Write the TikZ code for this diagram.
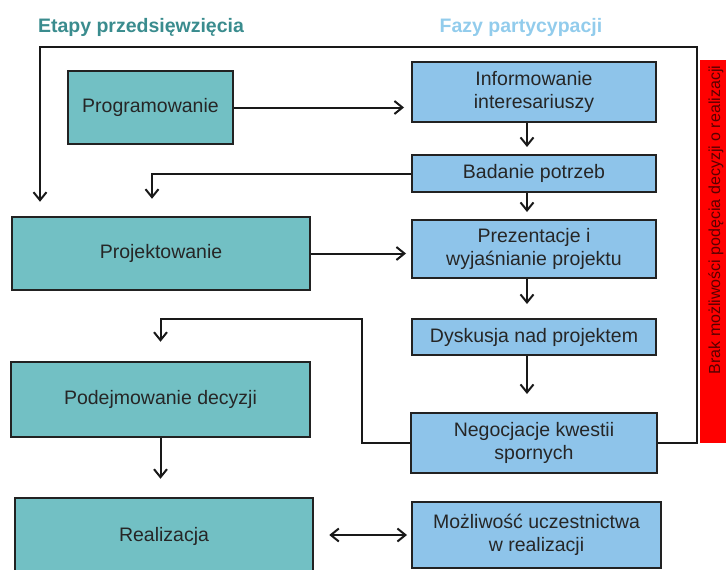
\documentclass[tikz,border=0pt]{standalone}
\usepackage{fontspec}
\setmainfont{Liberation Sans}
\definecolor{stageteal}{RGB}{114, 192, 196}
\definecolor{phaseblue}{RGB}{142, 196, 234}
\definecolor{headteal}{RGB}{58, 140, 142}
\definecolor{headblue}{RGB}{146, 204, 236}
\definecolor{boxline}{RGB}{34, 34, 34}
\definecolor{barred}{RGB}{255, 0, 0}
\usetikzlibrary{arrows.meta, positioning, calc}

\tikzset{
  stagebox/.style={draw=boxline, line width=2.5pt, fill=stageteal, inner sep=0pt,
    font=\fontsize{19.5}{23.5}\selectfont, text=black!85, align=center},
  phasebox/.style={draw=boxline, line width=2pt, fill=phaseblue, inner sep=0pt,
    font=\fontsize{19.5}{23.5}\selectfont, text=black!85, align=center},
  arr/.style={line width=2pt, draw=black!90, -{Straight Barb[length=8pt, width=13pt, line width=2pt]}},
  arrboth/.style={line width=2pt, draw=black!90, {Straight Barb[length=8pt, width=13pt, line width=2pt]}-{Straight Barb[length=8pt, width=13pt, line width=2pt]}}
}

\begin{document}
\begin{tikzpicture}[x=1pt, y=-1pt]
  \useasboundingbox (0,0) rectangle (726,570);

  % headers
  \node[font=\fontsize{19.5}{22}\selectfont\bfseries, text=headteal] (etapy) at (141,27) {Etapy przedsięwzięcia};
  \node[font=\fontsize{19.5}{22}\selectfont\bfseries, text=headblue] (fazy) at (521,27) {Fazy partycypacji};

  % stages
  \node[stagebox, minimum width=165pt, minimum height=73pt] (prog) at (150.5,107.5) {Programowanie};
  \node[stagebox, minimum width=298pt, minimum height=73pt] (proj) at (161,253.5) {Projektowanie};
  \node[stagebox, minimum width=299pt, minimum height=75pt] (dec) at (160.5,399.5) {Podejmowanie decyzji};
  \node[stagebox, minimum width=298pt, minimum height=76pt] (real) at (164,536) {Realizacja};

  % phases
  \node[phasebox, minimum width=244pt, minimum height=60pt] (info) at (534,92) {Informowanie\\interesariuszy};
  \node[phasebox, minimum width=244pt, minimum height=37pt] (bad) at (534,173.5) {Badanie potrzeb};
  \node[phasebox, minimum width=244pt, minimum height=58pt] (prez) at (534,249) {Prezentacje i\\wyjaśnianie projektu};
  \node[phasebox, minimum width=244pt, minimum height=36pt] (dys) at (534,337) {Dyskusja nad projektem};
  \node[phasebox, minimum width=246pt, minimum height=60pt] (neg) at (534,443) {Negocjacje kwestii\\spornych};
  \node[phasebox, minimum width=249pt, minimum height=66pt] (moz) at (536.5,535) {Możliwość uczestnictwa\\w realizacji};

  % red bar
  \node[fill=barred, inner sep=0pt, minimum width=30pt, minimum height=383pt] (bar) at (715,251.5) {};
  \node[rotate=90, font=\fontsize{16}{18}\selectfont, text=red!35!black] (bartext) at (716,220) {Brak możliwości podęcia decyzji o realizacji};

  % bend points
  \coordinate (loopR) at (697,47);
  \coordinate (loopL) at (40,47);
  \coordinate (negbend) at (362,319);

  % connectors
  \draw[arr, shorten >=7pt] (prog.east) -- (prog.east -| info.west);
  \draw[arr, shorten >=5pt] (proj.east) -- (proj.east -| prez.west);
  \draw[arr, shorten >=17pt] (bad.west) -| ([xshift=-9pt]proj.north);
  \draw[arr, shorten >=14pt] (neg.east) -| (loopR) -- (loopL) -- (loopL |- proj.north);
  \draw[arr, shorten >=19pt] (neg.west) -| (negbend) -| (dec.north);
  \draw[arr, shorten >=18pt] (dec.south) -- (dec.south |- real.north);
  \draw[arrboth, shorten <=15pt, shorten >=4pt] (real.east |- moz.west) -- (moz.west);

  \draw[arr, shorten >=7pt] ([xshift=-7pt]info.south) -- ([xshift=-7pt]bad.north);
  \draw[arr, shorten >=7pt] ([xshift=-7pt]bad.south) -- ([xshift=-7pt]prez.north);
  \draw[arr, shorten >=14pt] ([xshift=-7pt]prez.south) -- ([xshift=-7pt]dys.north);
  \draw[arr, shorten >=18pt] ([xshift=-7pt]dys.south) -- ([xshift=-7pt]neg.north);
\end{tikzpicture}
\end{document}
